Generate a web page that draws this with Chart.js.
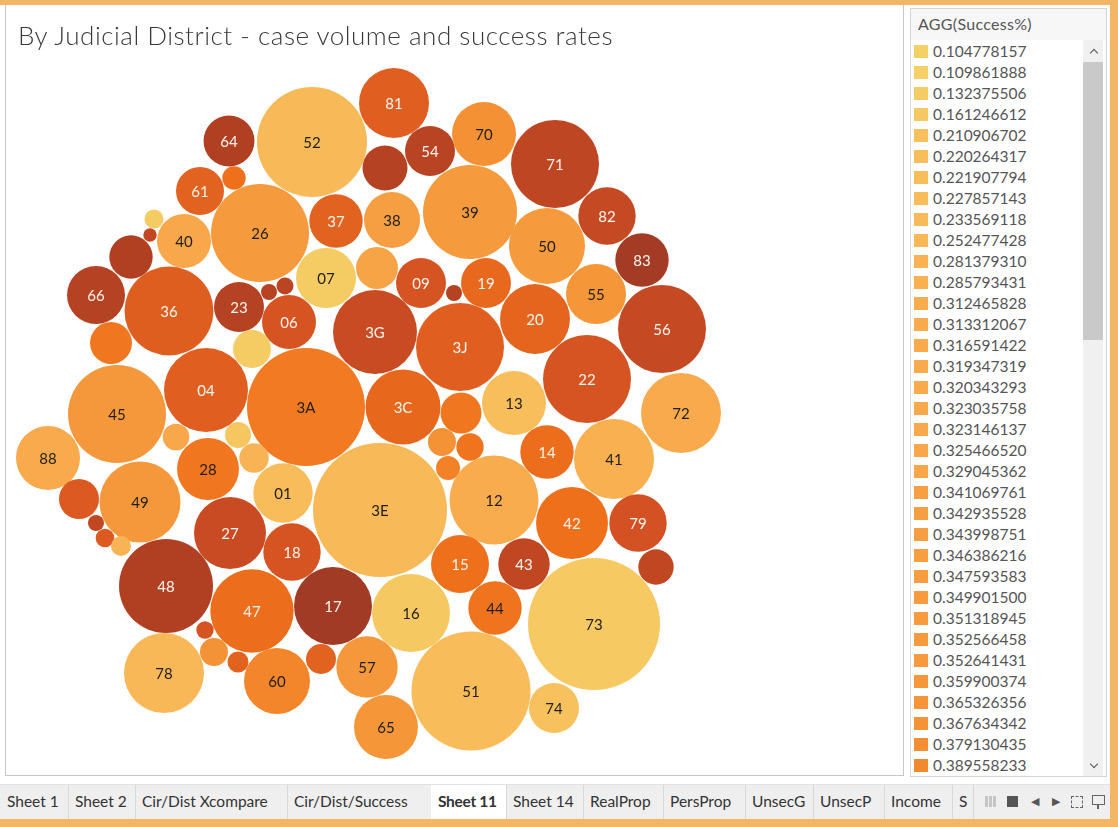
<!DOCTYPE html>
<html>
<head>
<meta charset="utf-8">
<script src="https://cdn.jsdelivr.net/npm/chart.js@4.4.1/dist/chart.umd.min.js"></script>
<style>
html,body{margin:0;padding:0;width:1118px;height:827px;overflow:hidden;background:#F4B565;font-family:Lato,"Open Sans",sans-serif;}
#frame{position:absolute;left:0;top:5px;width:1110px;height:813px;background:#fff;}
#pane{position:absolute;left:5px;top:5px;width:897px;height:770px;border-left:1px solid #c6c6c6;border-right:1px solid #c6c6c6;border-bottom:1px solid #c6c6c6;background:#fff;}
#chartCanvas{position:absolute;left:0;top:0;}
#title{position:absolute;left:18px;top:19px;font-size:26px;font-weight:300;color:#3a3a3a;line-height:32px;white-space:nowrap;letter-spacing:0.52px;}
#legend{position:absolute;left:910px;top:8px;width:195px;height:767px;border:1px solid #d6d6d6;background:#fff;overflow:hidden;}
#legHead{position:absolute;left:0;top:0;width:100%;height:31px;background:#f7f7f7;}
#legHead span{position:absolute;left:7px;top:5px;font-size:16px;color:#555;letter-spacing:0.3px;}
.item{position:absolute;left:0;height:21px;width:170px;}
.sw{position:absolute;left:3px;top:4px;width:14px;height:13px;}
.lv{position:absolute;left:22px;top:0;line-height:21px;font-size:15.5px;color:#555;}
#sbTrack{position:absolute;left:172px;top:31px;width:20px;height:736px;background:#f0f0f0;}
#sbThumb{position:absolute;left:172px;top:53px;width:20px;height:278px;background:#c9c9c9;}
.chev{position:absolute;width:5px;height:5px;border-left:1.5px solid #555;border-top:1.5px solid #555;}
#tabs{position:absolute;left:0;top:784px;width:1110px;height:34px;background:#efefef;border-top:1px solid #e2e2e2;}
.tab{position:absolute;top:0;height:34px;line-height:33px;font-size:15.5px;color:#333;border-right:1px solid #d8d8d8;box-sizing:border-box;padding-left:7px;white-space:nowrap;overflow:hidden;letter-spacing:0px;}
.tab.sel{background:#fff;font-weight:bold;letter-spacing:-0.3px;}
</style>
</head>
<body>
<div id="frame"></div>
<div id="pane"></div>
<canvas id="chartCanvas" width="903" height="776"></canvas>
<div id="title">By Judicial District - case volume and success rates</div>
<div id="legend">
  <div id="legHead"><span>AGG(Success%)</span></div>
  <div id="legList"></div>
  <div id="sbTrack"></div>
  <div id="sbThumb"></div>
  <div class="chev" style="left:180px;top:41px;transform:rotate(45deg);"></div>
  <div class="chev" style="left:180px;top:752px;transform:rotate(225deg);"></div>
</div>
<div id="tabs"></div>
<script>
// ---------- data ----------
const districts = ['81','52','64','54','','70','71','61','','26','37','38','39','82','','','40','50','83','','07','','09','','19','55','66','36','23','','','06','3G','3J','20','56','','04','','45','3A','3C','13','22','72','','','88','28','','01','3E','','','','','14','41','12','42','79','','49','','','','27','18','48','47','17','16','15','43','','44','73','','','','78','60','','57','65','51','74'];
// packed-bubble layout position of each district (layout units)
const packX = [394,312,229,430,385,484,555,200,234,260,336,392,470,607,154,150,184,547,642,131,326,377,421,454,486,596,96,169,239,269,285,289,375,460,535,662,111,206,252,117,306,403,514,587,681,176,238,48,208,254,283,380,461,442,470,448,547,614,494,572,638,79,140,96,105,121,230,292,166,252,333,411,460,524,656,495,594,205,214,238,164,277,321,367,386,471,554];
const packY = [103,142,141,151,168,134,164,191,178,233,221,220,212,216,219,235,241,246,260,257,278,268,283,293,283,294,295,311,307,292,286,322,332,347,319,329,343,390,349,414,407,407,403,379,413,437,435,458,469,458,493,510,413,442,447,468,452,459,500,523,523,499,502,523,538,546,533,552,586,611,606,613,564,564,567,608,624,630,652,662,673,681,659,667,727,691,708];
// case volume (bubble size)
const caseVolume = [2756,6806,1463,1406,1139,2304,4356,1296,308,5402,1604,1764,4970,1853,203,101,1640,3249,1604,1060,2025,992,1406,144,1406,2025,1892,4456,1406,144,163,1640,3969,4356,2756,4356,992,3969,812,5402,7832,3164,2304,4356,3600,398,380,2304,2162,486,1985,10100,946,441,422,324,1604,3600,4456,2916,1853,900,3691,144,195,225,2916,1853,4970,3913,3422,3422,1892,1486,705,1604,9801,170,441,248,3600,2450,506,2121,2304,7966,1406];
// AGG(Success%) per district
const successRate = [0.529,0.240,0.692,0.669,0.680,0.374,0.651,0.518,0.460,0.355,0.518,0.343,0.355,0.634,0.139,0.645,0.324,0.355,0.732,0.692,0.139,0.332,0.576,0.680,0.489,0.363,0.680,0.535,0.680,0.674,0.663,0.576,0.622,0.529,0.506,0.634,0.442,0.529,0.139,0.359,0.431,0.495,0.220,0.576,0.320,0.324,0.174,0.320,0.442,0.270,0.230,0.240,0.442,0.371,0.448,0.413,0.471,0.290,0.310,0.460,0.587,0.547,0.359,0.645,0.547,0.270,0.622,0.576,0.692,0.471,0.738,0.162,0.460,0.645,0.645,0.448,0.151,0.576,0.371,0.518,0.250,0.402,0.518,0.359,0.363,0.230,0.197];
// legend values (visible part of the colour legend)
const legendValues = [0.104778157,0.109861888,0.132375506,0.161246612,0.210906702,0.220264317,0.221907794,0.227857143,0.233569118,0.252477428,0.281379310,0.285793431,0.312465828,0.313312067,0.316591422,0.319347319,0.320343293,0.323035758,0.323146137,0.325466520,0.329045362,0.341069761,0.342935528,0.343998751,0.346386216,0.347593583,0.349901500,0.351318945,0.352566458,0.352641431,0.359900374,0.365326356,0.367634342,0.379130435,0.389558233];
const sheetTabs = ['Sheet 1','Sheet 2','Cir/Dist Xcompare','Cir/Dist/Success','Sheet 11','Sheet 14','RealProp','PersProp','UnsecG','UnsecP','Income','S'];
const activeSheet = 'Sheet 11';

// ---------- colour scale (Tableau Orange-Gold) ----------
const PALETTE = ['#f4d166','#f8be5c','#f8aa4c','#f5983b','#f3852a','#ef701b','#e2621f','#d65322','#c54923','#b14023','#9e3a26'];
const rateKnots = [0.1048,0.22,0.32,0.39,0.75];
const posKnots  = [0,0.1,0.2,0.38,1];
function rateToPos(v){
  if(v<=rateKnots[0]) return 0;
  for(let i=1;i<rateKnots.length;i++){
    if(v<=rateKnots[i]){
      const f=(v-rateKnots[i-1])/(rateKnots[i]-rateKnots[i-1]);
      return posKnots[i-1]+f*(posKnots[i]-posKnots[i-1]);
    }
  }
  return 1;
}
function hex2rgb(h){return [parseInt(h.slice(1,3),16),parseInt(h.slice(3,5),16),parseInt(h.slice(5,7),16)];}
function posToColor(p){
  const s=p*(PALETTE.length-1); const i=Math.min(Math.floor(s),PALETTE.length-2); const f=s-i;
  const a=hex2rgb(PALETTE[i]), b=hex2rgb(PALETTE[i+1]);
  return 'rgb('+a.map((c,k)=>Math.round(c+(b[k]-c)*f)).join(',')+')';
}
const colorFor = v => posToColor(rateToPos(v));

// ---------- legend ----------
const list=document.getElementById('legList');
legendValues.forEach((v,i)=>{
  const it=document.createElement('div'); it.className='item'; it.style.top=(32+21*i)+'px';
  it.innerHTML='<div class="sw" style="background:'+colorFor(v)+'"></div><div class="lv">'+v.toFixed(9)+'</div>';
  list.appendChild(it);
});

// ---------- tabs ----------
const tabEdges=[0,68,135,287,431,506,583,663,745,813,884,952,973];
const tabsEl=document.getElementById('tabs');
sheetTabs.forEach((t,i)=>{
  const d=document.createElement('div'); d.className='tab'+(t===activeSheet?' sel':'');
  d.style.left=tabEdges[i]+'px'; d.style.width=(tabEdges[i+1]-tabEdges[i]+1)+'px'; d.textContent=t;
  tabsEl.appendChild(d);
});
tabsEl.insertAdjacentHTML('beforeend',
 '<div style="position:absolute;left:985px;top:11px;width:11px;height:11px;background:repeating-linear-gradient(90deg,#bbb 0 3px,transparent 3px 4px);opacity:.8"></div>'+
 '<div style="position:absolute;left:1007px;top:11px;width:11px;height:11px;background:#555"></div>'+
 '<div style="position:absolute;left:1031px;top:9px;font-size:11px;color:#555">&#9664;</div>'+
 '<div style="position:absolute;left:1052px;top:9px;font-size:11px;color:#555">&#9654;</div>'+
 '<div style="position:absolute;left:1071px;top:11px;width:10px;height:10px;border:1.5px dashed #666"></div>'+
 '<div style="position:absolute;left:1092px;top:10px;width:11px;height:8px;border:1.5px solid #666"></div>'+
 '<div style="position:absolute;left:1097px;top:20px;width:1.5px;height:4px;background:#666"></div>');

// ---------- chart ----------
const bubbleLabels={
  id:'bubbleLabels',
  afterDatasetsDraw(chart){
    const ctx=chart.ctx, meta=chart.getDatasetMeta(0);
    ctx.save();
    ctx.font='15px Lato, "Open Sans", sans-serif';
    ctx.textAlign='center'; ctx.textBaseline='middle';
    meta.data.forEach((el,i)=>{
      const name=districts[i]; if(!name) return;
      ctx.fillStyle = rateToPos(successRate[i])>0.49 ? '#fdf5ef' : '#1e1e1e';
      ctx.fillText(name, el.x, el.y+1);
    });
    ctx.restore();
  }
};
function draw(){
  new Chart(document.getElementById('chartCanvas'),{
    type:'bubble',
    data:{datasets:[{
      label:'Judicial District',
      data:districts.map((d,i)=>({x:packX[i],y:packY[i],r:Math.sqrt(caseVolume[i])/1.5})),
      backgroundColor:successRate.map(colorFor),
      borderWidth:0, hoverBorderWidth:0, clip:false
    }]},
    options:{
      responsive:false, animation:false, events:[],
      layout:{padding:0, autoPadding:false},
      scales:{
        x:{type:'linear',min:0,max:903,display:false},
        y:{type:'linear',min:0,max:776,reverse:true,display:false}
      },
      plugins:{legend:{display:false},tooltip:{enabled:false},title:{display:false}}
    },
    plugins:[bubbleLabels]
  });
}
if(document.fonts && document.fonts.load){
  document.fonts.load('15px Lato').then(draw,draw);
}else draw();
</script>
</body>
</html>
